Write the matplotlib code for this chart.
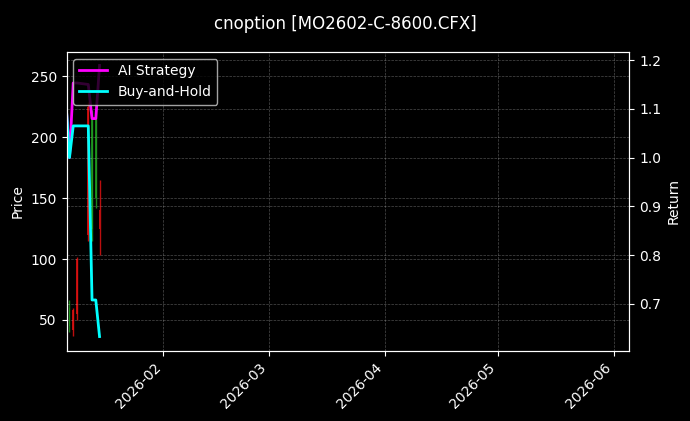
import pandas as pd
import matplotlib
matplotlib.use("Agg")
import matplotlib.pyplot as plt
import matplotlib.dates as mdates

plt.style.use("dark_background")

# candle data
candle_dates = pd.to_datetime(
    ["2026-01-07", "2026-01-08", "2026-01-09", "2026-01-12",
     "2026-01-13", "2026-01-14", "2026-01-15"]
)
opens = [45, 58, 100, 225, 125, 150, 140]
highs = [66, 60, 102, 229, 222, 222, 165]
lows = [40, 37, 50, 115, 115, 142, 103]
closes = [60, 42, 55, 120, 215, 215, 125]

# return series
line_dates = pd.to_datetime(
    ["2026-01-06", "2026-01-07", "2026-01-08", "2026-01-09", "2026-01-12",
     "2026-01-13", "2026-01-14", "2026-01-15"]
)
ai_strategy = [1.12, 1.00, 1.153, 1.153, 1.150, 1.080, 1.080, 1.189]
buy_hold = [1.12, 1.00, 1.065, 1.065, 1.065, 0.708, 0.708, 0.633]

fig, ax1 = plt.subplots(figsize=(6.9, 4.21), dpi=100)
fig.subplots_adjust(left=0.0964, right=0.912, top=0.877, bottom=0.167)

# candles
for d, o, h, l, c in zip(candle_dates, opens, highs, lows, closes):
    col = "#1f9a1f" if c >= o else "#dd1111"
    ax1.vlines(d, l, h, color=col, linewidth=1.0, alpha=0.85)
    ax1.bar(d, abs(c - o), bottom=min(o, c), width=0.5, color=col, alpha=0.85)

ax1.set_ylabel("Price")
ax1.set_ylim(24.8, 270)
ax1.grid(True, linestyle="--", linewidth=0.5, alpha=0.3)

ax2 = ax1.twinx()
ax2.plot(line_dates, ai_strategy, color="magenta", linewidth=2, label="AI Strategy")
ax2.plot(line_dates, buy_hold, color="cyan", linewidth=2, label="Buy-and-Hold")
ax2.set_ylabel("Return")
ax2.set_ylim(0.604, 1.217)
ax2.grid(True, linestyle="--", linewidth=0.5, alpha=0.3)
ax2.legend(loc="upper left")

ax1.set_xlim(pd.Timestamp("2026-01-06 05:00"), pd.Timestamp("2026-06-05 00:00"))
ax1.xaxis.set_major_locator(mdates.MonthLocator())
ax1.xaxis.set_major_formatter(mdates.DateFormatter("%Y-%m"))
plt.setp(ax1.get_xticklabels(), rotation=45, ha="right")

fig.suptitle("cnoption [MO2602-C-8600.CFX]", fontsize=12, y=0.965)

plt.savefig("out.png", dpi=100)
